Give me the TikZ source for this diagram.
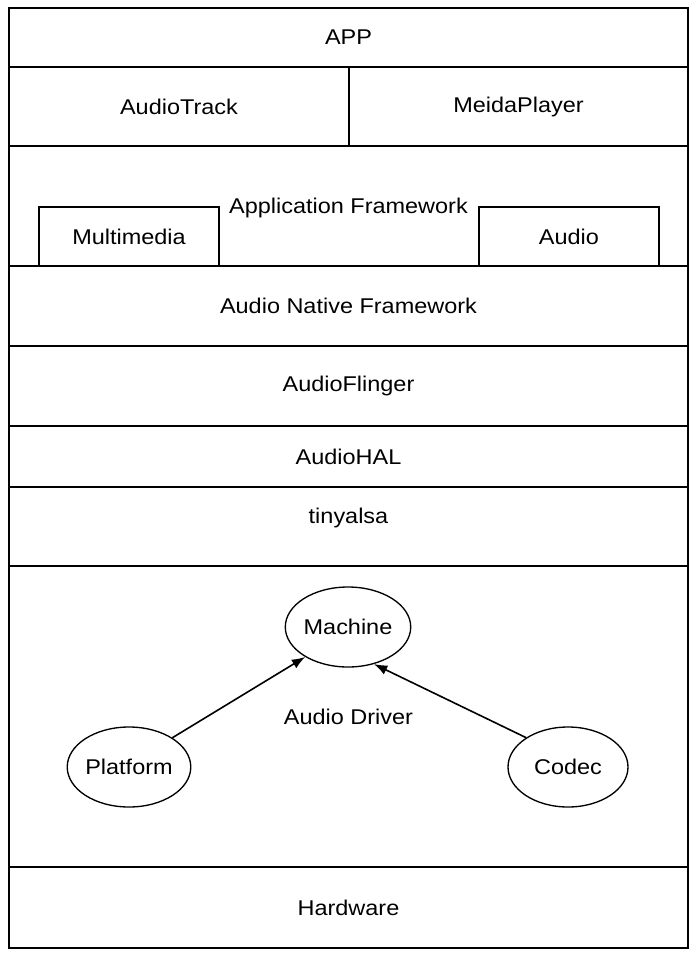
\documentclass[tikz,border=0pt]{standalone}
\usepackage{fontspec}
\setmainfont[FakeStretch=1.1]{Liberation Sans}
\usepackage{tikz}
\usetikzlibrary{arrows.meta}
\usetikzlibrary{positioning}
\usetikzlibrary{shapes.geometric}
\newlength\px
\setlength\px{0.75pt}

\begin{document}
\begin{tikzpicture}[x=0.75pt, y=-0.75pt,
        layer/.style={draw, line width=1pt, inner sep=0pt, font=\fontsize{16}{19}\selectfont},
        part/.style={ellipse, draw, line width=1pt, inner sep=0pt, fill=white,
                     minimum width=120*\px, minimum height=80*\px, font=\fontsize{16}{19}\selectfont},
        link/.style={-{Latex[length=10pt,width=7.5pt]}, line width=1.2pt}]
            \useasboundingbox[fill=white] (0,0) rectangle (696,956);
            % stack of layers, top to bottom
            \node[layer, minimum width=679*\px, minimum height=59*\px]  (app)     at (348.5, 37.5)  {APP};
            \node[layer, minimum width=340*\px, minimum height=79*\px]  (track)   at (179.0,106.5)  {AudioTrack};
            \node[layer, minimum width=339*\px, minimum height=79*\px]  (player)  at (518.5,106.5)  {MeidaPlayer};
            \node[layer, minimum width=679*\px, minimum height=120*\px] (appfw)   at (348.5,206.0)  {};
            \node[layer, draw=none] at (348.5,208) {Application Framework};
            \node[layer, minimum width=180*\px, minimum height=59*\px]  (media)   at (129.0,236.5)  {Multimedia};
            \node[layer, minimum width=180*\px, minimum height=59*\px]  (audio)   at (569.0,236.5)  {Audio};
            \node[layer, minimum width=679*\px, minimum height=80*\px]  (native)  at (348.5,306.0)  {Audio Native Framework};
            \node[layer, minimum width=679*\px, minimum height=80*\px]  (flinger) at (348.5,386.0)  {AudioFlinger};
            \node[layer, minimum width=679*\px, minimum height=61*\px]  (hal)     at (348.5,456.5)  {AudioHAL};
            \node[layer, minimum width=679*\px, minimum height=79*\px]  (alsa)    at (348.5,526.5)  {};
            \node[layer, draw=none] at (348.5,518) {tinyalsa};
            \node[layer, minimum width=679*\px, minimum height=301*\px] (driver)  at (348.5,716.5)  {Audio Driver};
            \node[layer, minimum width=679*\px, minimum height=81*\px]  (hw)      at (348.5,907.5)  {Hardware};
            % driver parts
            \node[part] (machine)  at (348,627) {Machine};
            \node[part] (platform) at (129,767) {Platform};
            \node[part] (codec)    at (568,767) {Codec};
            \draw[link] (platform.34) -- (machine.215);
            \draw[link] (codec.145) -- (machine.-55);
        \end{tikzpicture}
\end{document}
